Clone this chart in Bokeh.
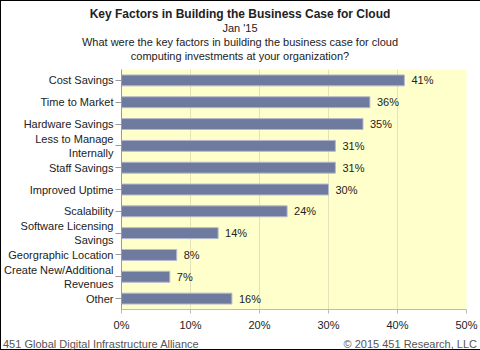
from bokeh.plotting import figure
from bokeh.models import ColumnDataSource, Range1d, FixedTicker, CustomJSTickFormatter, Div
from bokeh.layouts import column
from bokeh.core.properties import value
from bokeh.embed import file_html
from bokeh.resources import INLINE

categories = ["Cost Savings", "Time to Market", "Hardware Savings", "Less to Manage\nInternally",
              "Staff Savings", "Improved Uptime", "Scalability", "Software Licensing\nSavings",
              "Georgraphic Location", "Create New/Additional\nRevenues", "Other"]
values = [41, 36, 35, 31, 31, 30, 24, 14, 8, 7, 16]
x_ticks = [0, 10, 20, 30, 40, 50]
title = "Key Factors in Building the Business Case for Cloud"
subtitle = ["Jan '15", "What were the key factors in building the business case for cloud",
            "computing investments at your organization?"]
footer_left = "451 Global Digital Infrastructure Alliance"
footer_right = "\u00a9 2015 451 Research, LLC"

FONT = "Liberation Sans"
TXT = "#222222"
W = 478

# ---- header ----
HH = 68
line_style = ("position:absolute;left:0;width:{w}px;text-align:center;top:{t}px;"
              "line-height:14px;font-family:'Liberation Sans';color:#222222;font-size:{fs};{extra}")
parts = [f"<div style=\"{line_style.format(w=W, t=6, fs='12px', extra='font-weight:bold;')}\">{title}</div>"]
for t, s in zip([20, 34, 48], subtitle):
    parts.append(f"<div style=\"{line_style.format(w=W, t=t, fs='11px', extra='')}\">{s}</div>")
head = Div(text="<div style='position:relative;width:%dpx;height:%dpx;'>%s</div>" % (W, HH, "".join(parts)),
           width=W, height=HH, margin=0)

# ---- main chart ----
src = ColumnDataSource(dict(cat=categories, val=values, lab=[f"{v}%" for v in values]))
p = figure(y_range=list(reversed(categories)), x_range=Range1d(0, 50),
           frame_width=345, frame_height=240, min_border_left=119, min_border_right=14,
           min_border_top=0, min_border_bottom=25,
           output_backend="svg", toolbar_location=None,
           background_fill_color="#FFFFCC", border_fill_color="white")

p.hbar(y="cat", right="val", height=0.5, source=src, fill_color="#6F7A9F",
       line_color="#B4B8CC", line_width=1)
p.text(x="val", y="cat", text="lab", source=src, x_offset=7, text_baseline="middle",
       text_font=value(FONT), text_font_size="11px", text_color=TXT)

p.xaxis.ticker = FixedTicker(ticks=x_ticks)
p.xaxis.formatter = CustomJSTickFormatter(code="return tick + '%'")
p.xaxis.major_label_text_font = FONT
p.xaxis.major_label_text_font_size = "11px"
p.xaxis.major_label_text_color = TXT
p.xaxis.axis_line_color = "#BBBBBB"
p.xaxis.major_tick_line_color = "#BBBBBB"
p.xaxis.major_tick_in = 0
p.xaxis.major_tick_out = 4
p.xaxis.minor_tick_line_color = None
p.xaxis.major_label_standoff = 5

p.yaxis.major_label_text_font = FONT
p.yaxis.major_label_text_font_size = "11px"
p.yaxis.major_label_text_color = TXT
p.yaxis.axis_line_color = "#999999"
p.yaxis.major_tick_line_color = "#999999"
p.yaxis.major_tick_in = 0
p.yaxis.major_tick_out = 6
p.yaxis.major_label_standoff = 2

p.xgrid.grid_line_color = "#E6E2B8"
p.ygrid.grid_line_color = None
p.outline_line_color = None

# ---- footer ----
FH = 348 - HH - (240 + 25)
fstyle = ("position:absolute;top:3px;line-height:14px;font-family:'Liberation Sans';"
          "font-size:11px;color:#555555;white-space:nowrap;")
foot = Div(text=(f"<div style='position:relative;width:{W}px;height:{FH}px;'>"
                 f"<div style=\"{fstyle}left:2px;\">{footer_left}</div>"
                 f"<div style=\"{fstyle}right:2px;\">{footer_right}</div></div>"),
           width=W, height=FH, margin=0)

layout = column(head, p, foot, spacing=0,
                styles={"border": "1px solid black", "box-sizing": "content-box"})
open("out.html", "w").write(file_html(layout, INLINE))
